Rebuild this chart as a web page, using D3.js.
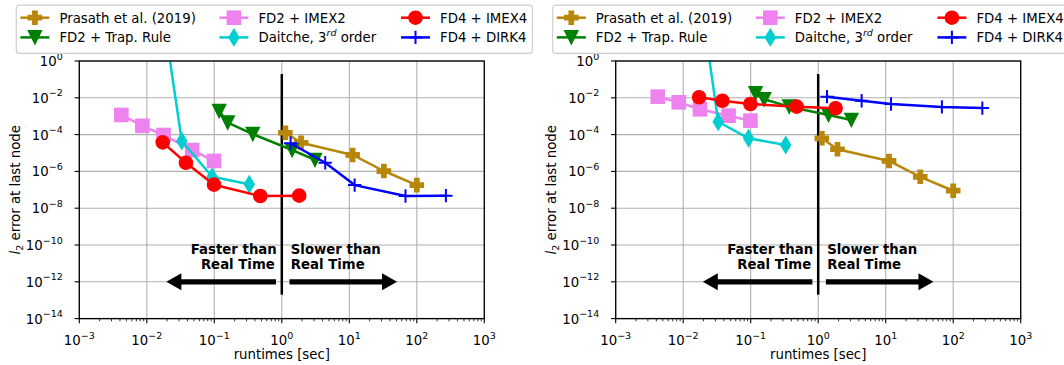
<!DOCTYPE html>
<html><head><meta charset="utf-8">
<script src="https://cdn.jsdelivr.net/npm/d3@7"></script>
<style>
html,body{margin:0;padding:0;background:#fff;}
svg{display:block;font-family:"DejaVu Sans",sans-serif;}
</style></head>
<body>
<svg id="chart" width="1064" height="365"></svg>
<script>
// ---------------- data ----------------
const seriesNames = ["Prasath et al. (2019)", "FD2 + Trap. Rule", "FD2 + IMEX2", "Daitche, 3rd order", "FD4 + IMEX4", "FD4 + DIRK4"];

const rtPrasath = [1.13, 1.93, 11.2, 32.5, 100];
const errPrasathL = [1.26e-4, 3.6e-5, 7.8e-6, 1.05e-6, 1.8e-7];
const errPrasathR = [6.3e-5, 1.6e-5, 3.7e-6, 5.1e-7, 8.9e-8];

const rtTrap = [0.118, 0.158, 0.372, 1.42, 3.1];
const errTrapL = [1.9e-3, 4.5e-4, 1.07e-4, 1.45e-5, 4.2e-6];
const errTrapR = [1.74e-2, 8.3e-3, 3.3e-3, 1.17e-3, 6.2e-4];

const rtIMEX2 = [0.0042, 0.0086, 0.0177, 0.047, 0.099];
const errIMEX2L = [1.17e-3, 3.0e-4, 9.5e-5, 1.45e-5, 3.7e-6];
const errIMEX2R = [1.15e-2, 5.7e-3, 2.37e-3, 1.07e-3, 5.7e-4];

const rtDaitche = [0.017, 0.033, 0.093, 0.33];
const errDaitcheL = [6.7e2, 4.5e-5, 5.1e-7, 2.0e-7];
const errDaitcheR = [1.5e4, 5.0e-4, 6.3e-5, 2.7e-5];

const rtIMEX4 = [0.0172, 0.038, 0.099, 0.48, 1.81];
const errIMEX4L = [3.8e-5, 2.95e-6, 1.9e-7, 4.6e-8, 4.8e-8];
const errIMEX4R = [1.07e-2, 6.9e-3, 4.6e-3, 3.3e-3, 2.7e-3];

const rtDIRK4 = [1.35, 4.4, 12, 68, 270];
const errDIRK4L = [3.4e-5, 2.95e-6, 1.8e-7, 4.6e-8, 4.8e-8];
const errDIRK4R = [1.15e-2, 6.9e-3, 4.6e-3, 3.2e-3, 2.75e-3];

const xTickExps = [-3, -2, -1, 0, 1, 2, 3];
const yTickExps = [0, -2, -4, -6, -8, -10, -12, -14];

const realTimeLine = [2e-13, 0.195];   // vertical line at runtime = 1 s
const arrowLeft = [0.82, 0.0195];       // tail, tip (runtime)
const arrowRight = [1.3, 51];
const arrowErr = 1e-12;

// ---------------- styles ----------------
const styles = [
  {color: "#b8860b", marker: "P"},
  {color: "#008000", marker: "v"},
  {color: "#ee82ee", marker: "s"},
  {color: "#00ced1", marker: "d"},
  {color: "#ff0000", marker: "o"},
  {color: "#0000ff", marker: "+"}
];

const panels = [
  {x0: 79.3, series: [[rtPrasath, errPrasathL], [rtTrap, errTrapL], [rtIMEX2, errIMEX2L], [rtDaitche, errDaitcheL], [rtIMEX4, errIMEX4L], [rtDIRK4, errDIRK4L]]},
  {x0: 615.7, series: [[rtPrasath, errPrasathR], [rtTrap, errTrapR], [rtIMEX2, errIMEX2R], [rtDaitche, errDaitcheR], [rtIMEX4, errIMEX4R], [rtDIRK4, errDIRK4R]]}
];

const W = 405, TOP = 61, BOT = 318.6;
const svg = d3.select("#chart");
const MS = 13.3;

function drawMarker(g, type, cx, cy, color) {
  const s = MS / 2;
  if (type === "o") {
    g.append("circle").attr("cx", cx).attr("cy", cy).attr("r", s)
      .attr("fill", color).attr("stroke", color).attr("stroke-width", 1.3);
  } else if (type === "s") {
    g.append("rect").attr("x", cx - s).attr("y", cy - s).attr("width", 2 * s).attr("height", 2 * s)
      .attr("fill", color).attr("stroke", color).attr("stroke-width", 1.3);
  } else if (type === "v") {
    g.append("path").attr("d", `M${cx - s},${cy - s}L${cx + s},${cy - s}L${cx},${cy + s}Z`)
      .attr("fill", color).attr("stroke", color).attr("stroke-width", 1.3).attr("stroke-linejoin", "miter");
  } else if (type === "d") {
    const h = 8.2, w = 5.0;
    g.append("path").attr("d", `M${cx},${cy - h}L${cx + w},${cy}L${cx},${cy + h}L${cx - w},${cy}Z`)
      .attr("fill", color).attr("stroke", color).attr("stroke-width", 1.3);
  } else if (type === "P") {
    const a = s / 3;
    const pts = [[-a,-3*a],[a,-3*a],[a,-a],[3*a,-a],[3*a,a],[a,a],[a,3*a],[-a,3*a],[-a,a],[-3*a,a],[-3*a,-a],[-a,-a]];
    g.append("path").attr("d", "M" + pts.map(p => (cx + p[0]) + "," + (cy + p[1])).join("L") + "Z")
      .attr("fill", color).attr("stroke", color).attr("stroke-width", 1.3);
  } else if (type === "+") {
    g.append("path").attr("d", `M${cx - s},${cy}H${cx + s}M${cx},${cy - s}V${cy + s}`)
      .attr("stroke", color).attr("stroke-width", 2).attr("fill", "none");
  }
}

panels.forEach((p, pi) => {
  const x = d3.scaleLog().domain([1e-3, 1e3]).range([p.x0, p.x0 + W]);
  const y = d3.scaleLog().domain([1e-14, 1e0]).range([BOT, TOP]);
  const g = svg.append("g");
  const clipId = "clip" + pi;
  svg.append("defs").append("clipPath").attr("id", clipId)
    .append("rect").attr("x", p.x0).attr("y", TOP).attr("width", W).attr("height", BOT - TOP);

  // grid
  xTickExps.forEach(e => {
    g.append("line").attr("x1", x(Math.pow(10, e))).attr("x2", x(Math.pow(10, e)))
      .attr("y1", TOP).attr("y2", BOT).attr("stroke", "#b0b0b0").attr("stroke-width", 1.1);
  });
  yTickExps.forEach(e => {
    g.append("line").attr("y1", y(Math.pow(10, e))).attr("y2", y(Math.pow(10, e)))
      .attr("x1", p.x0).attr("x2", p.x0 + W).attr("stroke", "#b0b0b0").attr("stroke-width", 1.1);
  });

  // real-time line
  g.append("line").attr("x1", x(1)).attr("x2", x(1))
    .attr("y1", y(realTimeLine[0])).attr("y2", y(realTimeLine[1]))
    .attr("stroke", "#000").attr("stroke-width", 2.5);

  // arrows
  function arrow(tail, tip) {
    const yy = y(arrowErr);
    const xt = x(tail), xp = x(tip);
    const dir = Math.sign(xp - xt);
    const hl = 15, hw = 8.5, sw = 2.6;
    const xb = xp - dir * hl;
    g.append("path")
      .attr("d", `M${xt},${yy - sw}L${xb},${yy - sw}L${xb},${yy - hw}L${xp},${yy}L${xb},${yy + hw}L${xb},${yy + sw}L${xt},${yy + sw}Z`)
      .attr("fill", "#000");
  }
  arrow(arrowLeft[0], arrowLeft[1]);
  arrow(arrowRight[0], arrowRight[1]);

  // annotation texts
  const ty1 = y(Math.pow(10, -10.2)) + 5;
  const tl = g.append("text").attr("font-weight", "bold").attr("font-size", 13.3).attr("text-anchor", "end");
  tl.append("tspan").attr("x", x(1) - 5).attr("y", ty1).text("Faster than");
  tl.append("tspan").attr("x", x(1) - 7).attr("y", ty1 + 15).text("Real Time");
  const tr = g.append("text").attr("font-weight", "bold").attr("font-size", 13.3).attr("text-anchor", "start");
  tr.append("tspan").attr("x", x(1) + 9).attr("y", ty1).text("Slower than");
  tr.append("tspan").attr("x", x(1) + 9).attr("y", ty1 + 15).text("Real Time");

  // series
  const dg = g.append("g").attr("clip-path", `url(#${clipId})`);
  p.series.forEach((s, si) => {
    const st = styles[si];
    const pts = s[0].map((r, i) => [x(r), y(s[1][i])]);
    dg.append("path").attr("d", d3.line()(pts)).attr("fill", "none")
      .attr("stroke", st.color).attr("stroke-width", 2.5).attr("stroke-linejoin", "round");
    pts.forEach(pt => drawMarker(dg, st.marker, pt[0], pt[1], st.color));
  });

  // spines
  g.append("rect").attr("x", p.x0).attr("y", TOP).attr("width", W).attr("height", BOT - TOP)
    .attr("fill", "none").attr("stroke", "#000").attr("stroke-width", 1.3);

  // x ticks
  xTickExps.forEach(e => {
    const xx = x(Math.pow(10, e));
    g.append("line").attr("x1", xx).attr("x2", xx).attr("y1", BOT).attr("y2", BOT + 4.7)
      .attr("stroke", "#000").attr("stroke-width", 1.1);
    const t = g.append("text").attr("x", xx).attr("y", BOT + 26.5).attr("text-anchor", "middle")
      .attr("font-size", 13.3).attr("fill", "#000");
    t.append("tspan").text("10");
    t.append("tspan").attr("dy", -6.5).attr("font-size", 9.5).text(e < 0 ? "\u2212" + (-e) : String(e));
    if (e < 3) {
      for (let k = 2; k <= 9; k++) {
        const xm = x(k * Math.pow(10, e));
        g.append("line").attr("x1", xm).attr("x2", xm).attr("y1", BOT).attr("y2", BOT + 2.7)
          .attr("stroke", "#000").attr("stroke-width", 0.8);
      }
    }
  });
  // y ticks
  yTickExps.forEach(e => {
    const yy = y(Math.pow(10, e));
    g.append("line").attr("x1", p.x0 - 4.7).attr("x2", p.x0).attr("y1", yy).attr("y2", yy)
      .attr("stroke", "#000").attr("stroke-width", 1.1);
    const t = g.append("text").attr("x", p.x0 - 16.5).attr("y", yy + 5).attr("text-anchor", "end")
      .attr("font-size", 13.3).attr("fill", "#000");
    t.append("tspan").text("10");
    t.append("tspan").attr("dy", -6.5).attr("font-size", 9.5).text(e < 0 ? "\u2212" + (-e) : String(e));
  });

  // axis labels
  g.append("text").attr("x", p.x0 + W / 2).attr("y", 358.5).attr("text-anchor", "middle")
    .attr("font-size", 13.3).text("runtimes [sec]");
  const yl = g.append("text").attr("transform", `translate(${p.x0 - 59.5},${(TOP + BOT) / 2}) rotate(-90)`)
    .attr("text-anchor", "middle").attr("font-size", 13.3);
  yl.append("tspan").attr("font-style", "italic").text("l");
  yl.append("tspan").attr("font-size", 9.5).attr("dy", 3).text("2");
  yl.append("tspan").attr("dy", -3).text(" error at last node");

  // legend
  const lx = p.x0 - 63;
  const lg = svg.append("g");
  lg.append("rect").attr("x", lx).attr("y", 5.1).attr("width", 516).attr("height", 48.3)
    .attr("rx", 3).attr("fill", "#fff").attr("fill-opacity", 0.8).attr("stroke", "#cccccc").attr("stroke-width", 1.1);
  const colX = [lx + 4.1, lx + 203.1, lx + 384.7];
  const rowY = [17.7, 37.4];
  styles.forEach((st, i) => {
    const c = Math.floor(i / 2), r = i % 2;
    const hx = colX[c], hy = rowY[r];
    lg.append("line").attr("x1", hx).attr("x2", hx + 29).attr("y1", hy).attr("y2", hy)
      .attr("stroke", st.color).attr("stroke-width", 2.5);
    drawMarker(lg, st.marker, hx + 14.5, hy, st.color);
    const t = lg.append("text").attr("x", hx + 39).attr("y", hy + 4.8).attr("font-size", 13.3).attr("fill", "#000");
    if (i === 3) {
      t.append("tspan").text("Daitche, 3");
      t.append("tspan").attr("dy", -6).attr("font-size", 9.5).attr("font-style", "italic").text("rd");
      t.append("tspan").attr("dy", 6).text(" order");
    } else {
      t.text(seriesNames[i]);
    }
  });
});
</script>
</body></html>
